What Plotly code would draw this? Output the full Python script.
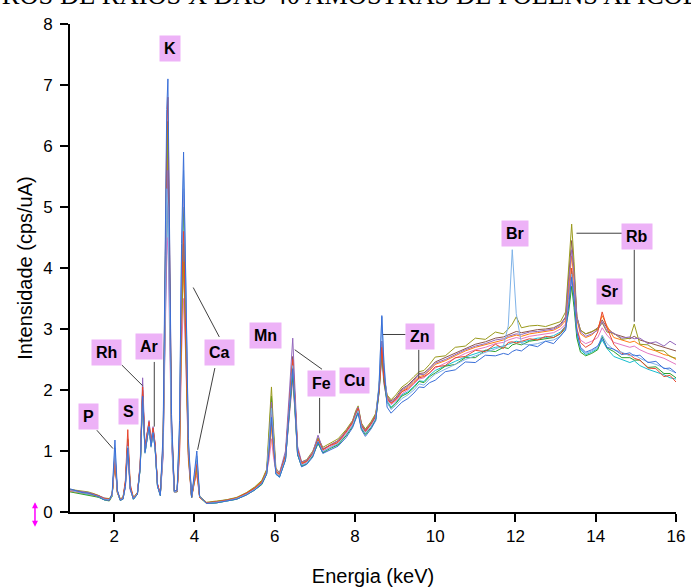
import plotly.graph_objects as go

# ---------------- data ----------------
energy_kev = [
    0.9, 1.05, 1.2, 1.35, 1.5, 1.62, 1.75, 1.88,
    1.95, 2.02, 2.08, 2.15,
    2.22, 2.28, 2.34, 2.40, 2.48,
    2.58, 2.65, 2.71, 2.77, 2.82, 2.87, 2.92, 2.97, 3.02, 3.08,
    3.15, 3.22, 3.27, 3.31, 3.34, 3.38, 3.43, 3.50,
    3.57, 3.63, 3.68, 3.73, 3.78, 3.85, 3.93, 4.00, 4.06, 4.13,
    4.3, 4.55, 4.8, 5.05, 5.3, 5.5, 5.68, 5.8,
    5.86, 5.92, 5.97, 6.03, 6.12,
    6.27, 6.37, 6.45, 6.50, 6.57, 6.67, 6.8,
    6.95, 7.08, 7.2, 7.38, 7.58, 7.78, 7.94,
    8.02, 8.08, 8.16, 8.26, 8.4, 8.52,
    8.6, 8.67, 8.72, 8.8, 8.9, 9.02, 9.17, 9.32, 9.47, 9.6, 9.72, 9.86,
    10.0, 10.25, 10.5, 10.75, 11.0, 11.25, 11.5, 11.7, 11.82,
    11.92, 12.02, 12.15, 12.35, 12.55, 12.75, 12.95, 13.12, 13.25,
    13.33, 13.4, 13.46, 13.53, 13.62, 13.75, 13.9, 14.05,
    14.16, 14.28, 14.45, 14.65, 14.85, 14.96, 15.1, 15.3, 15.5, 15.7, 15.85, 16.0,
]

amostra_marrom = [
    0.37, 0.35, 0.33, 0.32, 0.29, 0.27, 0.22, 0.21,
    0.28, 0.94, 0.34, 0.21,
    0.23, 0.47, 1.20, 0.41, 0.23,
    0.31, 0.76, 2.00, 1.02, 1.27, 1.46, 1.11, 1.37, 1.10, 0.45,
    0.29, 1.10, 3.60, 5.70, 6.40, 4.20, 1.45, 0.35,
    0.35, 1.05, 3.20, 4.30, 3.10, 0.95, 0.24, 0.53, 0.70, 0.25,
    0.15, 0.17, 0.20, 0.23, 0.31, 0.40, 0.50, 0.68,
    1.00, 1.50, 1.05, 0.67, 0.62,
    0.92, 1.85, 2.55, 1.95, 1.03, 0.80, 0.84,
    0.97, 1.21, 1.03, 1.10, 1.17, 1.33, 1.48,
    1.64, 1.72, 1.45, 1.34, 1.46, 1.60,
    2.02, 2.80, 2.28, 1.90, 1.82, 1.88, 2.02, 2.08, 2.18, 2.27, 2.28, 2.36,
    2.46, 2.53, 2.61, 2.68, 2.75, 2.79, 2.85, 2.87, 2.90,
    2.93, 2.96, 2.94, 2.97, 2.99, 3.00, 3.02, 3.08, 3.20,
    3.90, 4.45, 3.95, 3.20, 2.98, 2.92, 2.95, 3.02,
    3.15, 3.02, 2.92, 2.88, 2.84, 2.88, 2.82, 2.78, 2.74, 2.70, 2.68, 2.64,
]

amostra_ciano = [
    0.34, 0.32, 0.31, 0.29, 0.27, 0.24, 0.20, 0.19,
    0.26, 0.92, 0.33, 0.20,
    0.21, 0.44, 1.12, 0.39, 0.21,
    0.29, 0.72, 1.90, 0.97, 1.21, 1.41, 1.07, 1.31, 1.05, 0.43,
    0.27, 1.00, 3.00, 4.60, 5.20, 3.50, 1.25, 0.33,
    0.34, 1.15, 3.30, 4.40, 3.20, 1.00, 0.24, 0.54, 0.75, 0.25,
    0.14, 0.15, 0.18, 0.21, 0.29, 0.36, 0.46, 0.63,
    1.20, 1.85, 1.25, 0.62, 0.57,
    0.86, 1.70, 2.30, 1.76, 0.95, 0.76, 0.80,
    0.93, 1.14, 0.98, 1.05, 1.11, 1.26, 1.41,
    1.56, 1.65, 1.38, 1.28, 1.39, 1.53,
    1.98, 2.65, 2.20, 1.82, 1.72, 1.79, 1.92, 1.97, 2.06, 2.15, 2.14, 2.24,
    2.32, 2.40, 2.47, 2.54, 2.60, 2.65, 2.70, 2.72, 2.75,
    2.78, 2.80, 2.78, 2.82, 2.85, 2.86, 2.89, 2.95, 3.05,
    3.45, 3.95, 3.50, 2.90, 2.66, 2.58, 2.62, 2.68,
    2.82, 2.68, 2.55, 2.50, 2.45, 2.48, 2.40, 2.34, 2.30, 2.25, 2.20, 2.18,
]

amostra_rosa = [
    0.36, 0.34, 0.32, 0.31, 0.28, 0.26, 0.22, 0.20,
    0.28, 0.80, 0.32, 0.21,
    0.22, 0.40, 0.95, 0.36, 0.22,
    0.30, 0.75, 2.00, 1.00, 1.24, 1.44, 1.10, 1.34, 1.08, 0.44,
    0.28, 0.90, 2.80, 4.20, 4.50, 3.00, 1.10, 0.32,
    0.33, 0.90, 2.60, 3.50, 2.60, 0.85, 0.23, 0.48, 0.60, 0.24,
    0.15, 0.16, 0.19, 0.22, 0.30, 0.38, 0.48, 0.65,
    0.85, 1.20, 0.90, 0.66, 0.61,
    0.88, 1.60, 2.15, 1.70, 0.96, 0.78, 0.82,
    0.95, 1.18, 1.00, 1.07, 1.14, 1.29, 1.44,
    1.60, 1.68, 1.41, 1.31, 1.43, 1.56,
    1.95, 2.55, 2.10, 1.84, 1.76, 1.82, 1.94, 2.00, 2.10, 2.18, 2.20, 2.28,
    2.36, 2.44, 2.52, 2.60, 2.66, 2.70, 2.76, 2.78, 2.82,
    2.84, 2.86, 2.84, 2.88, 2.90, 2.92, 2.94, 3.00, 3.08,
    3.40, 3.80, 3.45, 3.00, 2.82, 2.76, 2.80, 2.86,
    3.02, 2.90, 2.78, 2.74, 2.70, 2.72, 2.66, 2.60, 2.56, 2.52, 2.47, 2.42,
]

amostra_verde = [
    0.33, 0.31, 0.30, 0.28, 0.26, 0.24, 0.20, 0.18,
    0.26, 0.90, 0.32, 0.19,
    0.21, 0.44, 1.10, 0.39, 0.21,
    0.29, 0.73, 1.92, 0.97, 1.22, 1.42, 1.07, 1.32, 1.06, 0.43,
    0.27, 1.15, 3.80, 5.90, 6.00, 4.10, 1.40, 0.33,
    0.33, 1.30, 3.80, 5.00, 3.60, 1.05, 0.23, 0.58, 0.85, 0.24,
    0.14, 0.15, 0.18, 0.21, 0.28, 0.36, 0.45, 0.62,
    1.25, 1.90, 1.30, 0.64, 0.58,
    0.86, 1.65, 2.25, 1.72, 0.94, 0.75, 0.79,
    0.92, 1.12, 0.97, 1.04, 1.10, 1.25, 1.40,
    1.55, 1.64, 1.37, 1.27, 1.38, 1.52,
    1.95, 2.60, 2.15, 1.80, 1.70, 1.78, 1.90, 1.95, 2.04, 2.14, 2.12, 2.22,
    2.28, 2.39, 2.42, 2.53, 2.53, 2.65, 2.63, 2.70, 2.68,
    2.74, 2.76, 2.74, 2.80, 2.82, 2.84, 2.86, 2.92, 3.02,
    3.30, 3.70, 3.35, 2.85, 2.62, 2.56, 2.60, 2.66,
    2.88, 2.69, 2.63, 2.53, 2.53, 2.49, 2.49, 2.37, 2.38, 2.27, 2.27, 2.20,
]

amostra_laranja = [
    0.34, 0.33, 0.31, 0.30, 0.27, 0.25, 0.21, 0.19,
    0.27, 0.85, 0.32, 0.20,
    0.22, 0.45, 1.12, 0.39, 0.22,
    0.30, 0.74, 1.94, 0.99, 1.24, 1.43, 1.09, 1.34, 1.08, 0.44,
    0.28, 1.10, 3.50, 5.50, 5.80, 3.90, 1.35, 0.34,
    0.36, 1.00, 3.00, 4.10, 3.00, 0.95, 0.24, 0.50, 0.65, 0.24,
    0.15, 0.16, 0.19, 0.23, 0.31, 0.39, 0.50, 0.68,
    0.95, 1.40, 1.00, 0.68, 0.62,
    0.90, 1.75, 2.45, 1.88, 1.00, 0.80, 0.84,
    0.97, 1.20, 1.02, 1.10, 1.16, 1.32, 1.46,
    1.62, 1.70, 1.43, 1.33, 1.45, 1.58,
    2.00, 2.75, 2.25, 1.88, 1.79, 1.85, 1.98, 2.04, 2.14, 2.22, 2.24, 2.32,
    2.42, 2.48, 2.56, 2.64, 2.70, 2.74, 2.79, 2.82, 2.86,
    2.88, 2.90, 2.88, 2.92, 2.94, 2.96, 2.98, 3.04, 3.14,
    3.70, 4.20, 3.80, 3.15, 2.92, 2.86, 2.90, 3.00,
    3.22, 3.05, 2.86, 2.82, 2.78, 2.80, 2.74, 2.68, 2.64, 2.58, 2.56, 2.50,
]

amostra_oliva = [
    0.37, 0.36, 0.34, 0.33, 0.30, 0.27, 0.23, 0.22,
    0.29, 0.92, 0.34, 0.22,
    0.24, 0.48, 1.18, 0.42, 0.24,
    0.32, 0.74, 1.98, 1.03, 1.26, 1.44, 1.10, 1.36, 1.08, 0.45,
    0.28, 1.00, 3.20, 5.20, 6.40, 3.90, 1.30, 0.34,
    0.35, 1.10, 3.10, 4.10, 2.90, 0.90, 0.24, 0.52, 0.72, 0.26,
    0.16, 0.18, 0.20, 0.24, 0.32, 0.41, 0.52, 0.70,
    1.35, 2.05, 1.40, 0.72, 0.64,
    0.95, 1.75, 2.40, 1.86, 1.02, 0.82, 0.86,
    1.00, 1.22, 1.06, 1.13, 1.20, 1.35, 1.50,
    1.66, 1.74, 1.46, 1.36, 1.48, 1.62,
    2.05, 2.75, 2.25, 1.92, 1.84, 1.92, 2.05, 2.12, 2.22, 2.30, 2.32, 2.42,
    2.54, 2.56, 2.70, 2.72, 2.85, 2.83, 2.95, 2.92, 3.00,
    3.08, 3.20, 3.02, 3.05, 3.06, 3.04, 3.08, 3.12, 3.28,
    4.00, 4.72, 4.10, 3.20, 2.98, 2.92, 2.96, 3.00,
    3.10, 2.95, 2.93, 2.83, 2.85, 3.08, 2.75, 2.74, 2.65, 2.64, 2.55, 2.52,
]

amostra_roxo = [
    0.36, 0.35, 0.33, 0.32, 0.29, 0.26, 0.22, 0.20,
    0.28, 0.96, 0.35, 0.21,
    0.22, 0.46, 1.14, 0.40, 0.22,
    0.31, 0.80, 2.20, 1.05, 1.30, 1.50, 1.14, 1.40, 1.12, 0.47,
    0.28, 0.95, 3.10, 5.00, 5.60, 3.60, 1.25, 0.34,
    0.34, 1.25, 4.00, 5.30, 3.80, 1.10, 0.25, 0.56, 0.82, 0.25,
    0.15, 0.16, 0.19, 0.22, 0.30, 0.38, 0.48, 0.66,
    1.15, 1.80, 1.25, 0.70, 0.64,
    1.00, 2.00, 2.85, 2.10, 1.08, 0.82, 0.85,
    0.98, 1.26, 1.03, 1.10, 1.17, 1.32, 1.48,
    1.63, 1.72, 1.44, 1.33, 1.45, 1.58,
    2.02, 2.80, 2.30, 1.88, 1.80, 1.86, 2.00, 2.06, 2.16, 2.26, 2.25, 2.34,
    2.44, 2.50, 2.58, 2.66, 2.72, 2.76, 2.82, 2.84, 2.88,
    2.90, 2.92, 2.91, 2.95, 2.96, 2.98, 3.00, 3.06, 3.18,
    3.80, 4.30, 3.90, 3.20, 2.95, 2.88, 2.92, 2.98,
    3.12, 2.97, 2.93, 2.85, 2.87, 2.84, 2.85, 2.76, 2.79, 2.72, 2.80, 2.74,
]

amostra_vermelho = [
    0.35, 0.34, 0.32, 0.30, 0.29, 0.26, 0.22, 0.21,
    0.27, 0.88, 0.33, 0.21,
    0.23, 0.52, 1.35, 0.46, 0.23,
    0.31, 0.78, 2.05, 1.02, 1.28, 1.48, 1.12, 1.38, 1.12, 0.46,
    0.29, 1.20, 3.90, 6.20, 6.80, 4.30, 1.50, 0.36,
    0.34, 1.20, 3.50, 4.60, 3.30, 1.00, 0.25, 0.55, 0.78, 0.24,
    0.15, 0.17, 0.19, 0.23, 0.31, 0.39, 0.49, 0.66,
    1.05, 1.60, 1.15, 0.66, 0.61,
    0.92, 1.80, 2.50, 1.92, 1.02, 0.79, 0.83,
    0.96, 1.18, 1.02, 1.09, 1.14, 1.31, 1.47,
    1.62, 1.70, 1.42, 1.32, 1.44, 1.57,
    1.98, 2.70, 2.20, 1.86, 1.78, 1.84, 1.97, 2.02, 2.12, 2.20, 2.22, 2.28,
    2.38, 2.40, 2.53, 2.55, 2.65, 2.63, 2.75, 2.68, 2.78,
    2.79, 2.77, 2.80, 2.84, 2.82, 2.88, 2.86, 2.93, 3.04,
    3.50, 4.00, 3.60, 3.00, 2.78, 2.70, 2.76, 2.95,
    3.28, 3.02, 2.75, 2.60, 2.58, 2.52, 2.49, 2.36, 2.35, 2.22, 2.24, 2.13,
]

amostra_azul_claro = [
    0.35, 0.33, 0.32, 0.30, 0.28, 0.25, 0.21, 0.20,
    0.27, 1.05, 0.34, 0.20,
    0.22, 0.43, 1.08, 0.38, 0.22,
    0.30, 0.72, 1.88, 0.96, 1.20, 1.40, 1.06, 1.30, 1.04, 0.42,
    0.28, 1.05, 3.30, 5.30, 5.00, 3.40, 1.20, 0.33,
    0.35, 1.40, 4.20, 5.60, 4.00, 1.15, 0.24, 0.60, 0.92, 0.25,
    0.14, 0.16, 0.18, 0.22, 0.29, 0.37, 0.47, 0.64,
    1.10, 1.70, 1.20, 0.64, 0.59,
    0.88, 1.75, 2.40, 1.85, 0.98, 0.77, 0.80,
    0.94, 1.16, 0.99, 1.05, 1.12, 1.27, 1.42,
    1.58, 1.66, 1.39, 1.29, 1.40, 1.54,
    2.10, 3.20, 2.50, 1.80, 1.68, 1.75, 1.86, 1.92, 2.00, 2.10, 2.08, 2.18,
    2.26, 2.34, 2.42, 2.50, 2.56, 2.62, 2.68, 2.72, 3.05,
    4.30, 3.25, 2.76, 2.74, 2.76, 2.80, 2.82, 2.88, 3.00,
    3.50, 3.90, 3.55, 2.95, 2.68, 2.60, 2.64, 2.70,
    2.90, 2.76, 2.66, 2.62, 2.56, 2.58, 2.52, 2.46, 2.42, 2.36, 2.32, 2.28,
]

amostra_azul = [
    0.38, 0.35, 0.32, 0.31, 0.27, 0.25, 0.20, 0.19,
    0.30, 1.18, 0.36, 0.19,
    0.21, 0.42, 1.05, 0.38, 0.21,
    0.29, 0.72, 1.90, 0.98, 1.22, 1.40, 1.08, 1.30, 1.05, 0.42,
    0.27, 1.30, 4.20, 6.60, 7.10, 4.60, 1.60, 0.34,
    0.36, 1.50, 4.40, 5.90, 4.10, 1.20, 0.24, 0.62, 1.00, 0.26,
    0.14, 0.15, 0.18, 0.21, 0.28, 0.36, 0.46, 0.62,
    1.00, 1.55, 1.10, 0.62, 0.57,
    0.85, 1.70, 2.35, 1.80, 0.95, 0.74, 0.78,
    0.90, 1.15, 0.96, 1.02, 1.08, 1.22, 1.38,
    1.52, 1.62, 1.35, 1.24, 1.36, 1.50,
    2.05, 3.22, 2.45, 1.72, 1.62, 1.70, 1.80, 1.86, 1.95, 2.05, 2.04, 2.12,
    2.16, 2.30, 2.33, 2.46, 2.45, 2.57, 2.56, 2.60, 2.58,
    2.63, 2.66, 2.64, 2.74, 2.71, 2.80, 2.76, 2.88, 2.98,
    3.40, 3.85, 3.50, 2.95, 2.70, 2.62, 2.66, 2.72,
    2.85, 2.70, 2.67, 2.58, 2.61, 2.56, 2.57, 2.45, 2.47, 2.35, 2.36, 2.28,
]

series = [
    ("marrom", amostra_marrom, "#8c564b"),
    ("ciano", amostra_ciano, "#17becf"),
    ("rosa", amostra_rosa, "#e377c2"),
    ("verde", amostra_verde, "#2ca02c"),
    ("laranja", amostra_laranja, "#ff7f0e"),
    ("oliva", amostra_oliva, "#9a9a1c"),
    ("roxo", amostra_roxo, "#9467bd"),
    ("vermelho", amostra_vermelho, "#e8462e"),
    ("azul claro", amostra_azul_claro, "#7fb3e8"),
    ("azul", amostra_azul, "#3a6fd8"),
]

element_labels = ["K", "Rh", "Ar", "P", "S", "Ca", "Mn", "Fe", "Cu", "Zn", "Br", "Rb", "Sr"]
label_energy = [3.40, 1.82, 2.87, 1.37, 2.35, 4.62, 5.78, 7.17, 8.00, 9.62, 11.98, 15.04, 14.34]
label_intensity = [7.60, 2.61, 2.71, 1.57, 1.64, 2.62, 2.90, 2.10, 2.16, 2.87, 4.57, 4.52, 3.61]

# leader lines: (x0, y0, x1, y1) in keV / cps/uA
leader_lines = [
    (1.57, 1.34, 1.97, 1.04),
    (2.19, 2.41, 2.71, 2.07),
    (3.00, 2.46, 3.00, 1.40),
    (3.97, 3.68, 4.62, 2.87),
    (4.51, 2.36, 4.08, 1.02),
    (6.50, 2.66, 7.18, 2.34),
    (7.12, 1.87, 7.12, 1.29),
    (8.70, 2.91, 9.26, 2.91),
    (9.59, 2.66, 9.59, 2.19),
    (13.52, 4.57, 14.67, 4.57),
    (14.96, 4.30, 14.96, 3.12),
]

# ---------------- figure ----------------
fig = go.Figure()
for name, vals, col in series:
    fig.add_trace(go.Scatter(x=energy_kev, y=vals, mode="lines", name=name,
                             line=dict(color=col, width=1), showlegend=False))

for (x0, y0, x1, y1) in leader_lines:
    fig.add_shape(type="line", xref="x", yref="y", x0=x0, y0=y0, x1=x1, y1=y1,
                  line=dict(color="#404040", width=1))

for txt, ex, iy in zip(element_labels, label_energy, label_intensity):
    fig.add_annotation(x=ex, y=iy, xref="x", yref="y", text="<b>%s</b>" % txt,
                       showarrow=False, bgcolor="#edb2f7", borderpad=4,
                       font=dict(family="Liberation Sans, Arial", size=16, color="black"))

# cut-off title at the top (only its lower part is visible in the reference)
fig.add_annotation(x=-0.2734, y=1.0586, xref="paper", yref="paper", xanchor="left", yanchor="middle",
                   text="ESPECTROS DE RAIOS X DAS 40 AMOSTRAS DE PÓLENS APÍCOLAS", showarrow=False,
                   font=dict(family="Liberation Serif, Times New Roman", size=26.5, color="black"))

# magenta double arrow near the y origin
fig.add_annotation(x=-0.0578, y=-0.030, xref="paper", yref="paper",
                   ax=0, ay=-26, axref="pixel", ayref="pixel", text="",
                   showarrow=True, arrowhead=2, startarrowhead=2, arrowside="end+start",
                   arrowsize=0.8, arrowwidth=1.5, arrowcolor="#ff00ff")

fig.update_layout(
    width=691, height=588,
    margin=dict(l=70, r=15, t=24, b=76),
    paper_bgcolor="white", plot_bgcolor="white",
    font=dict(family="Liberation Sans, Arial", color="black"),
    xaxis=dict(range=[0.9, 16.0], tickvals=[2, 4, 6, 8, 10, 12, 14, 16],
               showline=True, linecolor="black", linewidth=2, mirror=False,
               ticks="outside", ticklen=8, tickwidth=1.5, tickcolor="black",
               showgrid=False, zeroline=False, tickfont=dict(size=17), automargin=False,
               title=dict(text="Energia (keV)", font=dict(size=20), standoff=24)),
    yaxis=dict(range=[0, 8], tickvals=[0, 1, 2, 3, 4, 5, 6, 7, 8],
               showline=True, linecolor="black", linewidth=2, mirror=False,
               ticks="outside", ticklen=8, tickwidth=1.5, tickcolor="black",
               ticklabelstandoff=4,
               showgrid=False, zeroline=False, tickfont=dict(size=17), automargin=False,
               title=dict(text="Intensidade (cps/uA)", font=dict(size=20), standoff=5)),
)

fig.write_html("out.html", config={"displayModeBar": False},
               post_script="document.body.style.margin='0px';")
